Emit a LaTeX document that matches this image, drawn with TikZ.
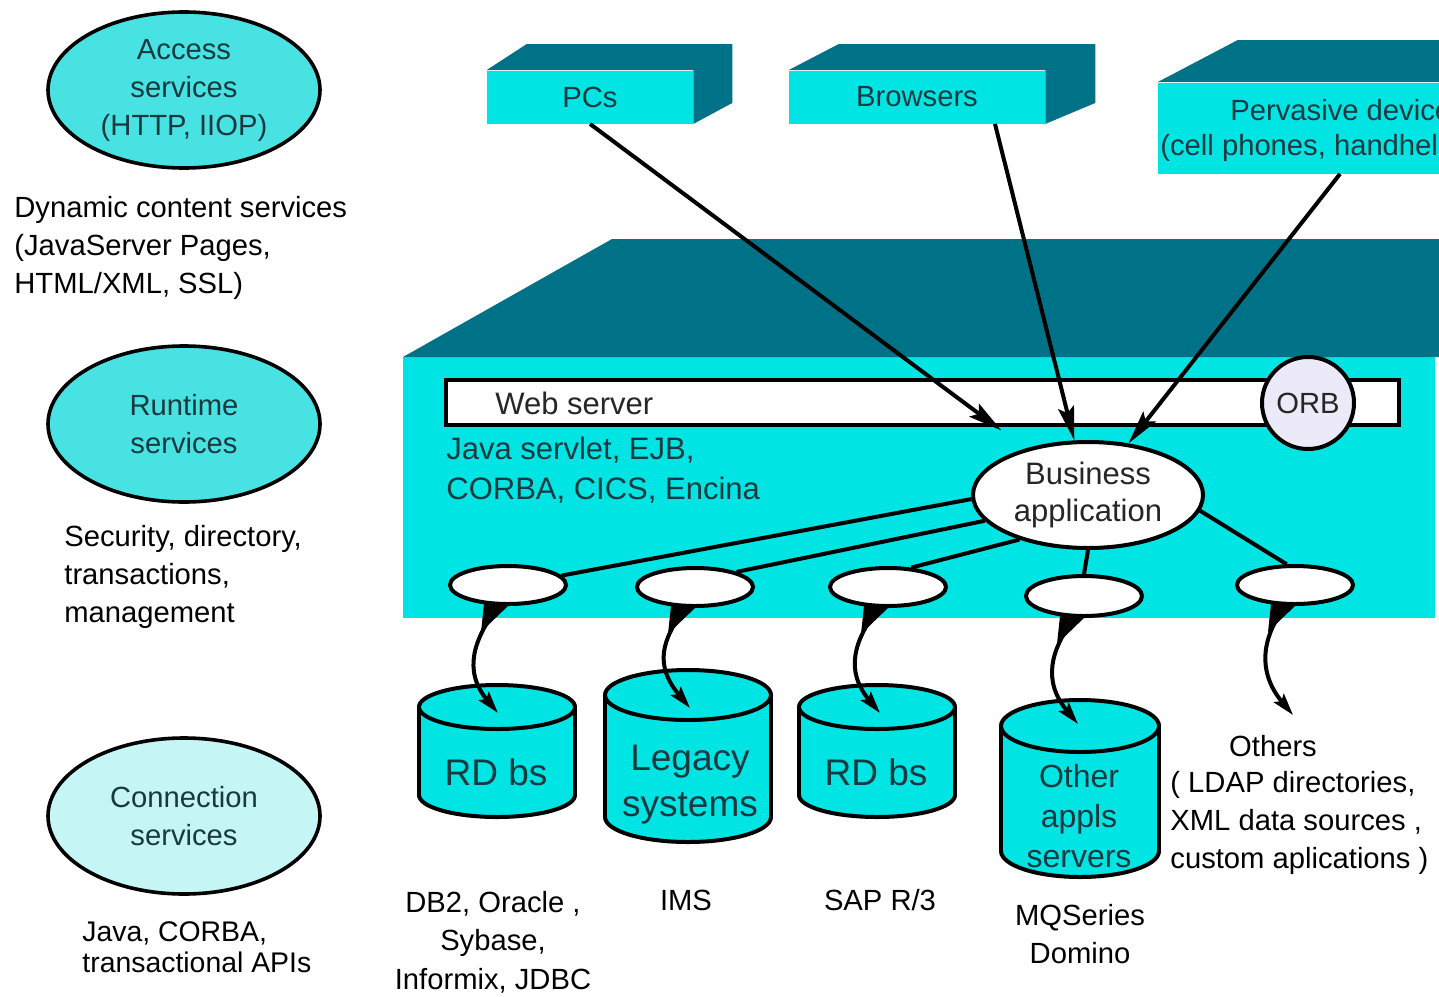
\documentclass[tikz,border=0pt]{standalone}
\usepackage{fontspec}
\setmainfont{Liberation Sans}
\usetikzlibrary{arrows.meta,calc,shapes.geometric}
\definecolor{cy}{HTML}{00E4E4}
\definecolor{tealtop}{HTML}{007287}
\definecolor{cyl}{HTML}{48E2E2}
\definecolor{cypale}{HTML}{C6F5F5}
\definecolor{orbc}{HTML}{ECEAF8}
\definecolor{ink}{HTML}{17393F}
\newcommand\drawcyl[5]{%
  \filldraw[cylst] (#1,#4) ellipse [x radius=#2, y radius=#5];
  \fill[cy] (#1-#2,#3) rectangle (#1+#2,#4);
  \draw[cylst] (#1-#2,#3) -- (#1-#2,#4) (#1+#2,#3) -- (#1+#2,#4);
  \filldraw[cylst] (#1,#3) ellipse [x radius=#2, y radius=#5];
}
\begin{document}
\begin{tikzpicture}[x=0.5pt,y=-0.5pt,
  base/.style={font=\fontsize{14.6}{18.8}\selectfont},
  svc/.style={ellipse, draw, line width=1.8pt, minimum width=136pt, minimum height=78pt,
    inner sep=0pt, align=center, text=ink, font=\fontsize{14.6}{19}\selectfont},
  desc/.style={base, align=left, inner sep=0pt},
  lab/.style={base, align=center, inner sep=0pt},
  box/.style={fill=cy, minimum height=26.5pt, inner sep=0pt, text=ink, base},
  ptext/.style={font=\fontsize{15.5}{20}\selectfont, inner sep=0pt, text=ink, align=left},
  sm/.style={ellipse, draw, line width=2pt, fill=white, minimum width=58pt, minimum height=19pt, inner sep=0pt},
  ln/.style={line width=2pt},
  arr/.style={line width=2pt, -{Stealth[length=17pt,width=8pt,inset=3pt]}},
  curv/.style={line width=2pt, -{Stealth[length=11pt,width=6.5pt,inset=2pt]}},
  cylst/.style={draw=black, fill=cy, line width=2pt},
  cyltext/.style={font=\fontsize{18.5}{23}\selectfont, text=ink, align=center, inner sep=0pt}
]
\useasboundingbox (0,0) rectangle (1439,996);
\clip (0,0) rectangle (1439,996);

% left column
\node[svc, fill=cyl] (acc) at (184,90) {Access\\services\\(HTTP, IIOP)};
\node[desc, anchor=west] (dyn) at (14,248) {Dynamic content services\\(JavaServer Pages,\\HTML/XML, SSL)};
\node[svc, fill=cyl] (run) at (184,424) {Runtime\\services};
\node[desc, anchor=west] (sec) at (64,577) {Security, directory,\\transactions,\\management};
\node[svc, fill=cypale] (con) at (184,816) {Connection\\services};
\node[desc, anchor=west, font=\fontsize{14.2}{15.5}\selectfont] (jav) at (82,947) {Java, CORBA,\\transactional APIs};

% top boxes
\node[box, minimum width=103pt] (pcs) at (590,97) {PCs};
\fill[tealtop] (pcs.north west) -- ++(40,-26) -- ($(pcs.north east)+(39,-26)$) -- ($(pcs.south east)+(39,-21)$) -- (pcs.south east) -- (pcs.north east) -- cycle;
\node[box, minimum width=128pt] (brw) at (917,97) {Browsers};
\fill[tealtop] (brw.north west) -- ++(50,-26) -- ($(brw.north east)+(50,-26)$) -- ($(brw.south east)+(50,-21)$) -- (brw.south east) -- (brw.north east) -- cycle;
\node[box, minimum width=171pt, minimum height=45.5pt] (pvd) at (1329,128) {};
\fill[tealtop] (pvd.north west) -- ++(80,-42) -- ($(pvd.north east)+(80,-42)$) -- (pvd.north east) -- cycle;
\node[base, text=ink, anchor=west, inner sep=0pt] (pvt1) at (1230,110) {Pervasive devices};
\node[base, text=ink, anchor=west, inner sep=0pt] (pvt2) at (1160,148) {(cell phones, handhelds)};

% platform
\node[fill=cy, minimum width=516pt, minimum height=130.5pt, inner sep=0pt, anchor=north west] (plat) at (403,357) {};
\fill[tealtop] (plat.north west) -- ++(209,-118) -- (1439,239) -- (1439,357) -- cycle;
\node[draw, line width=2pt, fill=white, minimum width=476.5pt, minimum height=22.5pt, inner sep=0pt, anchor=north west] (web) at (444,378) {};
\node[ptext, anchor=west, text=black!85] (webt) at (495,403) {Web server};
\node[circle, draw, line width=2pt, fill=orbc, minimum size=46pt, inner sep=0pt, base, text=black!85] (orb) at (1308,403) {ORB};
\node[ptext, anchor=west] (jsv) at (446,470) {Java servlet, EJB,\\CORBA, CICS, Encina};
\node[ellipse, draw, line width=2pt, fill=white, minimum width=115pt, minimum height=53pt, inner sep=0pt, align=center,
  font=\fontsize{15.5}{18.5}\selectfont, text=black!85] (biz) at (1088,495) {Business\\application};

\node[sm] (e1) at (508,585) {};
\node[sm] (e2) at (695,587) {};
\node[sm] (e3) at (888,587) {};
\node[sm, minimum height=20pt] (e4) at (1084,596) {};
\node[sm] (e5) at (1295,585) {};

\draw[ln] (biz.182) -- (e1.10);
\draw[ln] (biz.194) -- (e2.20);
\draw[ln] (biz.213) -- (e3.40);
\draw[ln] (biz.south) -- (e4.north);
\draw[ln] (biz.-8) -- (e5.112);

% device arrows
\draw[arr, shorten >=15pt] (pcs.south) -- (biz);
\draw[arr] ([xshift=39pt]brw.south) -- (biz);
\draw[arr] ([xshift=5.5pt]pvd.south) -- (biz);

% cylinders
\drawcyl{497}{78}{707}{795}{22}
\drawcyl{688}{83}{695}{817}{25}
\drawcyl{877}{78}{707}{795}{22}
\drawcyl{1080}{79}{726}{851}{26}
\node[cyltext] (c1) at (496,772) {RD bs};
\node[cyltext] (c2) at (690,785) {Legacy\\systems};
\node[cyltext] (c3) at (876,772) {RD bs};
\node[cyltext, font=\fontsize{16}{20}\selectfont] (c4) at (1079,816) {Other\\appls\\servers};

\coordinate (t1) at (498,713);
\coordinate (t2) at (690,708);
\coordinate (t3) at (880,713);
\coordinate (t4) at (1078,724);
\coordinate (t5) at (1293,715);

% curved arrows with tapered starts
\foreach \e/\t in {e1/t1,e2/t2,e3/t3,e4/t4,e5/t5}{
  \fill ([shift={(-24,-2)}]\e.south) -- ([shift={(2,-2)}]\e.south) -- ([shift={(-27,26)}]\e.south) -- cycle;
  \draw[curv] ([shift={(-11,2)}]\e.south) .. controls +(-22,30) and +(-36,-43) .. (\t);
}

% bottom labels
\node[lab, font=\fontsize{14.6}{19.25}\selectfont] (db2) at (493,942) {DB2, Oracle ,\\Sybase,\\Informix, JDBC};
\node[lab] (ims) at (686,900) {IMS};
\node[lab] (sap) at (880,900) {SAP R/3};
\node[lab] (mqs) at (1080,934) {MQSeries\\Domino};
\node[lab] (oth) at (1273,746) {Others};
\node[desc, anchor=west, font=\fontsize{14.6}{19}\selectfont] (othd) at (1170,823) {( LDAP directories,\\XML data sources ,\\custom aplications )};
\end{tikzpicture}
\end{document}
